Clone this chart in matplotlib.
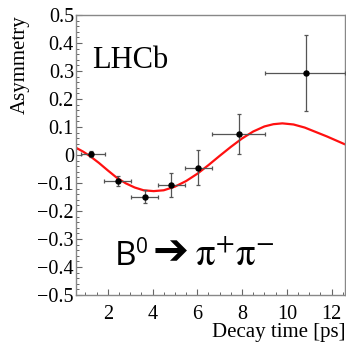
import matplotlib
matplotlib.use("Agg")
import matplotlib.pyplot as plt
from matplotlib.ticker import MultipleLocator

# binned asymmetry points
t_mean = [1.24, 2.45, 3.65, 4.83, 6.04, 7.85, 10.85]
bin_lo = [0.79, 1.84, 3.04, 4.23, 5.43, 6.64, 9.04]
bin_hi = [1.87, 3.04, 4.23, 5.43, 6.64, 9.04, 12.6]
asym = [0.004, -0.094, -0.149, -0.108, -0.045, 0.074, 0.292]
asym_err = [0.012, 0.018, 0.024, 0.042, 0.062, 0.072, 0.135]

# fit curve
fit_t = [0.58, 0.9, 1.24, 1.6, 2.0, 2.4, 2.8, 3.2, 3.6, 4.05, 4.5, 5.0,
         5.5, 6.0, 6.5, 7.0, 7.5, 8.0, 8.5, 9.0, 9.4, 9.8, 10.3, 10.8,
         11.3, 11.8, 12.2, 12.6]
fit_a = [0.026, 0.012, -0.006, -0.028, -0.055, -0.081, -0.101, -0.116,
         -0.126, -0.129, -0.126, -0.113, -0.093, -0.067, -0.036, -0.003,
         0.029, 0.059, 0.084, 0.102, 0.110, 0.113, 0.109, 0.098, 0.082,
         0.066, 0.052, 0.038]

serif = "Liberation Serif"
plt.rcParams["font.family"] = [serif, "DejaVu Serif"]
plt.rcParams["mathtext.fontset"] = "stix"
plt.rcParams["axes.unicode_minus"] = True

W, H = 346, 343
fig = plt.figure(figsize=(W / 100, H / 100), dpi=100)
ax = fig.add_axes([76 / W, 1 - 295 / H, 269 / W, 280 / H])

xerr = [[m - lo for m, lo in zip(t_mean, bin_lo)],
        [hi - m for m, hi in zip(t_mean, bin_hi)]]
ax.errorbar(t_mean, asym, xerr=xerr, yerr=asym_err, fmt="o", color="black",
            ms=3.6, ecolor="#555555", elinewidth=0.9, capsize=1.5,
            capthick=0.9, zorder=3)
ax.plot(fit_t, fit_a, color="#ff1010", lw=1.6, zorder=2,
        solid_joinstyle="round", solid_capstyle="round")

ax.set_xlim(0.58, 12.6)
ax.set_ylim(-0.5, 0.5)
ax.xaxis.set_major_locator(MultipleLocator(2))
ax.xaxis.set_minor_locator(MultipleLocator(0.5))
ax.yaxis.set_major_locator(MultipleLocator(0.1))
ax.yaxis.set_minor_locator(MultipleLocator(0.02))
ax.yaxis.set_major_formatter(plt.FuncFormatter(
    lambda v, p: "0" if abs(v) < 1e-9 else ("%.1f" % v).replace("-", "\u2212")))
ax.tick_params(which="both", direction="in", color="#666666", top=False,
               right=False, labelfontfamily=serif)
ax.tick_params(which="major", length=4.5, width=0.8)
ax.tick_params(which="minor", length=2.2, width=0.7)
ax.tick_params(axis="y", pad=1.5, labelsize=14.5)
ax.tick_params(axis="x", pad=7.5, labelsize=14.5)
for s in ax.spines.values():
    s.set_color("#888888")
    s.set_linewidth(1.0)

ax.set_ylabel("Asymmetry", loc="top", fontsize=15)
ax.yaxis.set_label_coords(-0.171, 1.0)
ax.set_xlabel("Decay time [ps]", loc="right", fontsize=15)
ax.xaxis.set_label_coords(1.0, -0.15)
ax.xaxis.label.set_va("baseline")

fig.text(92 / W, 1 - 68 / H, "LHCb", fontsize=22, va="baseline")

fig.text(115 / W, 1 - 265 / H, "B", family="Open Sans", fontsize=24, va="baseline")
fig.text(136 / W, 1 - 237 / H, "0", family="Open Sans", fontsize=15, va="top")
fig.text(153 / W, 1 - 252 / H, "\u2794", family="DejaVu Sans", fontsize=31,
         va="center", ha="left")
fig.text(195 / W, 1 - 265 / H, r"$\mathrm{\pi}^{+}\mathrm{\pi}^{-}$",
         fontsize=28, va="baseline")

fig.savefig("out.png", dpi=100)
